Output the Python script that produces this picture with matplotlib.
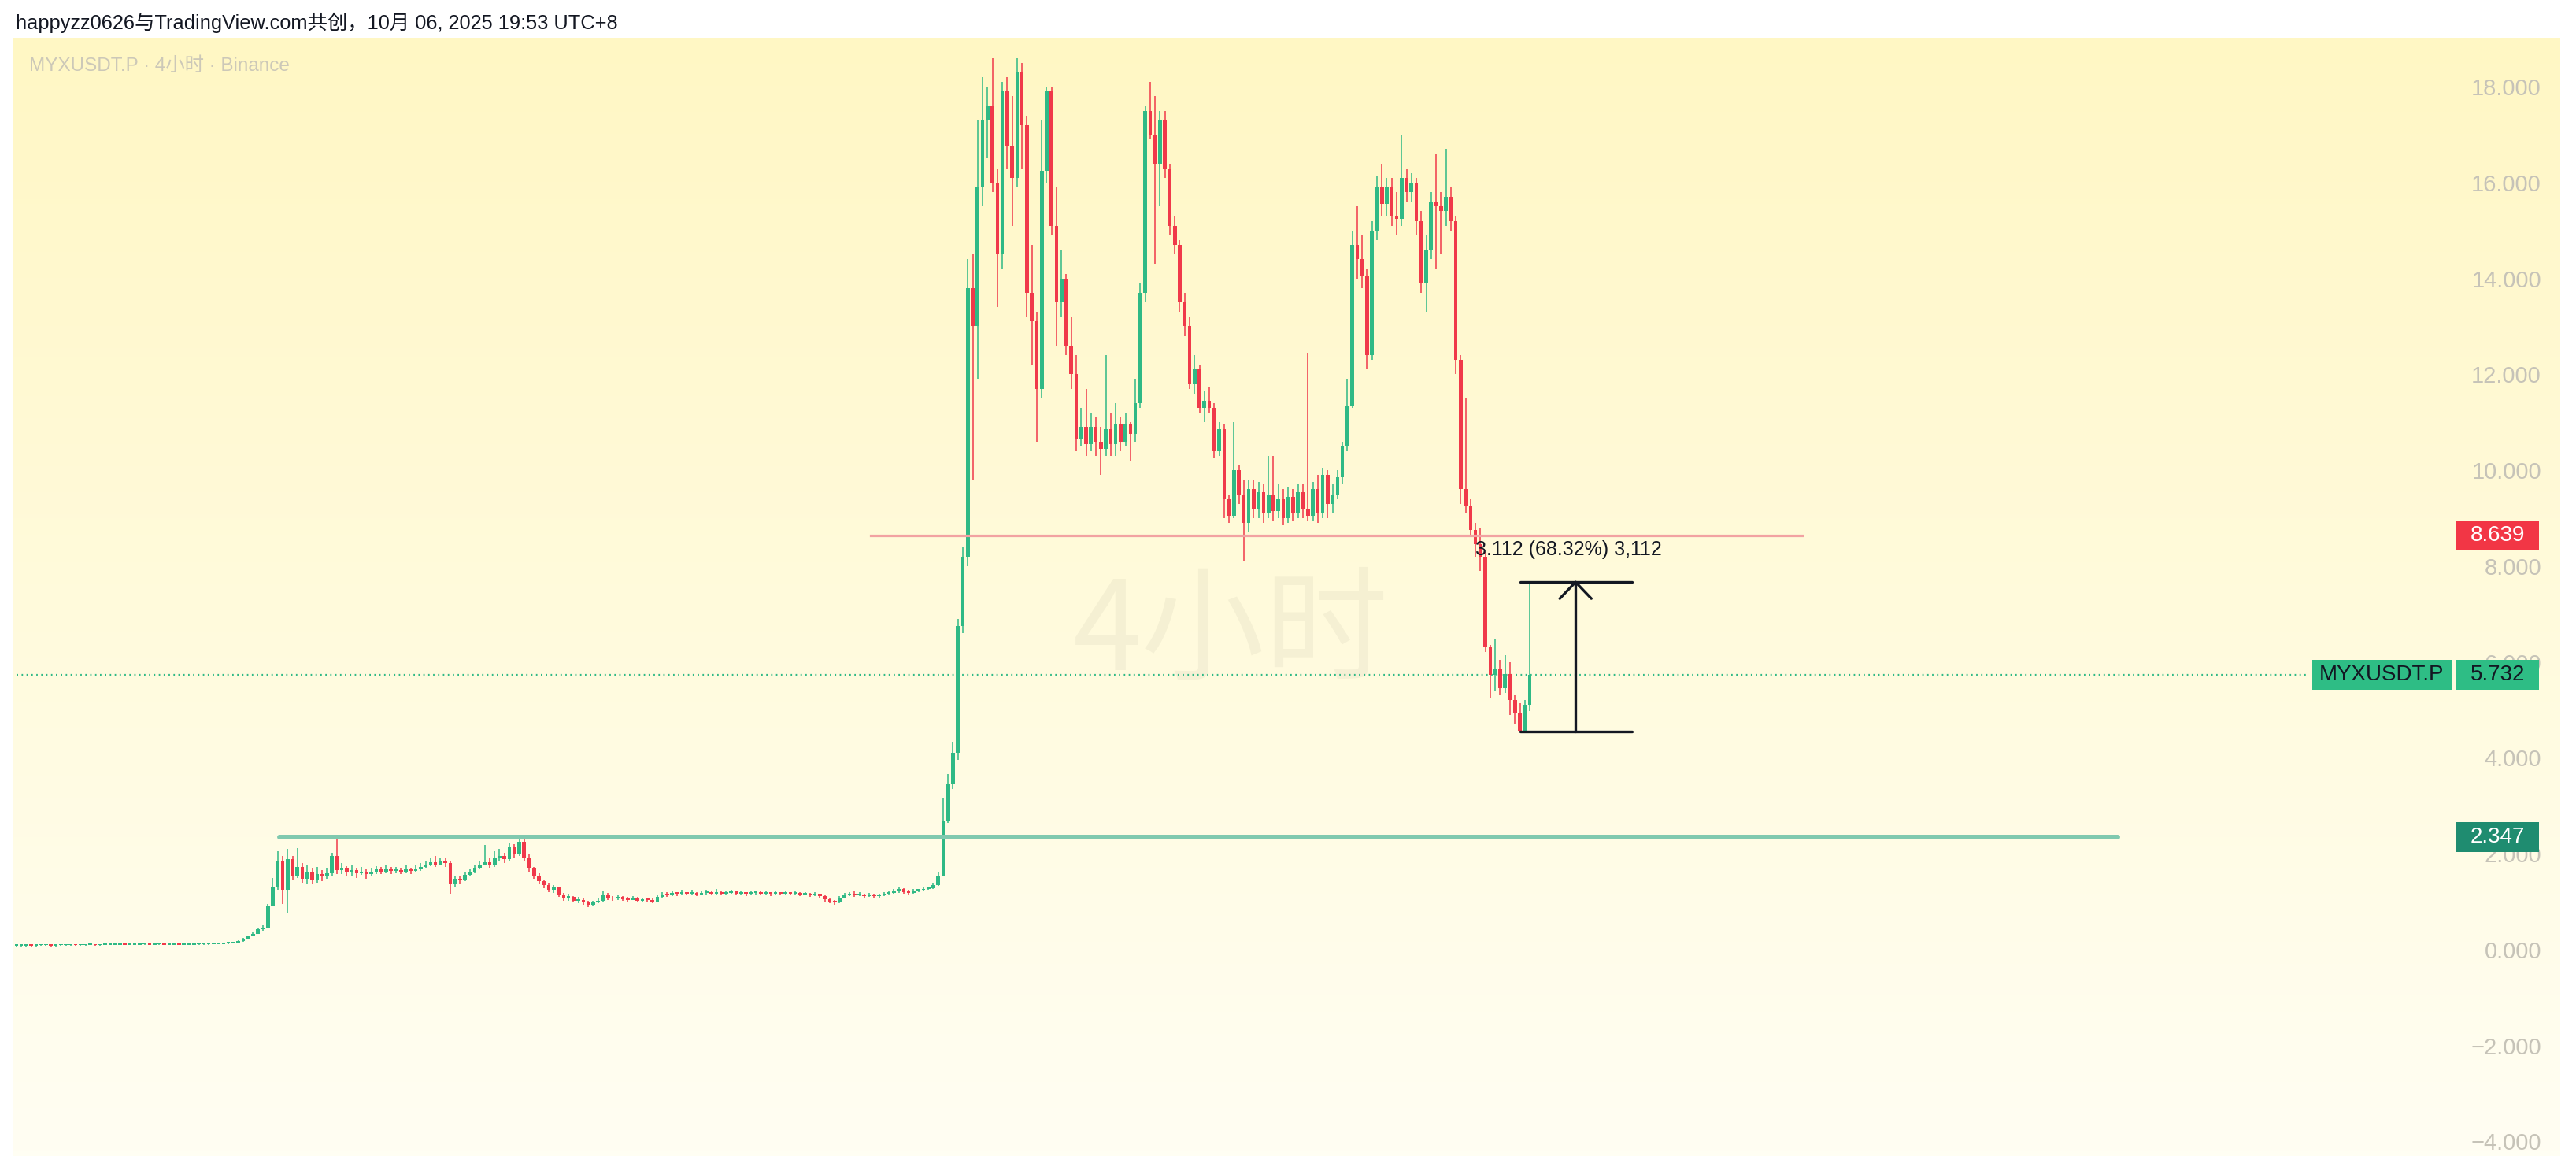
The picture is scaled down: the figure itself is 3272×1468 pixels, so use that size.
import numpy as np
import matplotlib
matplotlib.use('Agg')
import matplotlib.pyplot as plt
from matplotlib import transforms
from matplotlib.patches import Rectangle

plt.rcParams['font.family'] = ['Liberation Sans', 'Noto Sans CJK SC', 'DejaVu Sans']

# MYXUSDT.P 4h candles
first_open = 0.08
close = [
    0.08, 0.08, 0.09, 0.08, 0.09, 0.09, 0.09, 0.08, 0.09, 0.09,
    0.09, 0.10, 0.09, 0.09, 0.10, 0.10, 0.09, 0.10, 0.10, 0.10,
    0.10, 0.11, 0.10, 0.10, 0.10, 0.11, 0.11, 0.10, 0.11, 0.11,
    0.10, 0.10, 0.11, 0.10, 0.10, 0.10, 0.11, 0.11, 0.11, 0.12,
    0.12, 0.12, 0.13, 0.14, 0.15, 0.18, 0.22, 0.28, 0.33, 0.42,
    0.46, 0.92, 1.30, 1.85, 1.25, 1.88, 1.55, 1.72, 1.48, 1.62,
    1.45, 1.58, 1.52, 1.60, 1.95, 1.65, 1.70, 1.62, 1.66, 1.60,
    1.63, 1.58, 1.62, 1.67, 1.63, 1.68, 1.64, 1.66, 1.62, 1.68,
    1.64, 1.68, 1.72, 1.78, 1.83, 1.78, 1.86, 1.80, 1.38, 1.48,
    1.45, 1.56, 1.62, 1.70, 1.78, 1.82, 1.75, 1.92, 1.96, 1.88,
    2.15, 2.00, 2.25, 1.92, 1.70, 1.55, 1.42, 1.35, 1.25, 1.30,
    1.15, 1.08, 1.10, 1.02, 1.04, 0.98, 0.93, 0.98, 1.02, 1.15,
    1.08, 1.06, 1.10, 1.05, 1.04, 1.08, 1.02, 1.05, 1.03, 1.00,
    1.10, 1.15, 1.13, 1.18, 1.16, 1.19, 1.16, 1.18, 1.15, 1.18,
    1.20, 1.17, 1.19, 1.16, 1.18, 1.21, 1.17, 1.19, 1.16, 1.18,
    1.20, 1.17, 1.19, 1.16, 1.18, 1.17, 1.19, 1.16, 1.18, 1.15,
    1.17, 1.14, 1.16, 1.12, 1.05, 1.00, 0.98, 1.08, 1.14, 1.16,
    1.13, 1.15, 1.12, 1.14, 1.11, 1.13, 1.16, 1.18, 1.22, 1.26,
    1.20, 1.18, 1.23, 1.24, 1.26, 1.28, 1.35, 1.55, 2.70, 3.45,
    4.10, 6.75, 8.20, 13.80, 13.00, 15.90, 17.30, 17.60, 16.00, 14.50,
    17.90, 16.75, 16.10, 18.30, 17.20, 13.70, 13.10, 11.70, 16.25, 17.90,
    15.10, 13.50, 14.00, 12.60, 12.00, 10.65, 10.90, 10.55, 10.90, 10.60,
    10.45, 10.85, 10.55, 10.95, 10.60, 10.95, 10.75, 11.40, 13.70, 17.50,
    17.00, 16.40, 17.30, 16.30, 15.10, 14.70, 13.50, 13.00, 11.80, 12.10,
    11.30, 11.45, 11.30, 10.40, 10.85, 9.40, 9.05, 10.00, 9.50, 8.90,
    9.60, 9.20, 9.55, 9.10, 9.50, 9.15, 9.40, 9.00, 9.45, 9.10,
    9.55, 9.20, 9.05, 9.60, 9.10, 9.90, 9.30, 9.50, 9.85, 10.50,
    11.35, 14.70, 14.40, 14.05, 12.40, 15.00, 15.90, 15.55, 15.90, 15.30,
    15.25, 16.10, 15.80, 16.00, 15.20, 13.90, 14.60, 15.60, 15.50, 15.40,
    15.70, 15.20, 12.30, 9.60, 9.25, 8.75, 8.45, 8.20, 6.30, 5.73,
    5.85, 5.45, 5.75, 5.20, 4.92, 4.56, 5.10, 5.732,
]
high = [
    0.10, 0.10, 0.11, 0.10, 0.11, 0.11, 0.11, 0.10, 0.11, 0.11,
    0.11, 0.12, 0.11, 0.11, 0.12, 0.12, 0.11, 0.12, 0.12, 0.12,
    0.12, 0.13, 0.12, 0.12, 0.12, 0.13, 0.13, 0.12, 0.13, 0.13,
    0.12, 0.12, 0.13, 0.12, 0.12, 0.12, 0.13, 0.13, 0.13, 0.14,
    0.14, 0.14, 0.15, 0.16, 0.17, 0.20, 0.24, 0.30, 0.36, 0.45,
    0.50, 0.95, 1.50, 2.05, 1.95, 2.10, 1.95, 2.12, 1.80, 1.78,
    1.70, 1.72, 1.66, 1.70, 2.02, 2.33, 1.80, 1.74, 1.75, 1.70,
    1.72, 1.68, 1.70, 1.74, 1.72, 1.78, 1.72, 1.73, 1.70, 1.76,
    1.70, 1.75, 1.80, 1.86, 1.92, 1.96, 1.92, 1.90, 1.84, 1.55,
    1.55, 1.62, 1.68, 1.76, 1.85, 2.19, 1.90, 2.05, 2.10, 2.02,
    2.22, 2.20, 2.37, 2.30, 1.98, 1.72, 1.60, 1.45, 1.40, 1.35,
    1.32, 1.18, 1.16, 1.12, 1.10, 1.06, 1.02, 1.02, 1.06, 1.22,
    1.18, 1.12, 1.14, 1.12, 1.10, 1.12, 1.10, 1.08, 1.07, 1.06,
    1.14, 1.20, 1.20, 1.22, 1.20, 1.24, 1.20, 1.25, 1.19, 1.22,
    1.24, 1.22, 1.26, 1.21, 1.22, 1.25, 1.22, 1.23, 1.20, 1.22,
    1.23, 1.21, 1.22, 1.20, 1.21, 1.20, 1.22, 1.20, 1.21, 1.20,
    1.20, 1.18, 1.19, 1.17, 1.13, 1.06, 1.03, 1.12, 1.18, 1.20,
    1.22, 1.19, 1.17, 1.18, 1.16, 1.17, 1.20, 1.22, 1.26, 1.30,
    1.28, 1.24, 1.26, 1.27, 1.29, 1.31, 1.40, 1.62, 3.17, 3.66,
    4.34, 6.90, 8.40, 14.40, 14.50, 17.30, 18.20, 18.00, 18.60, 16.30,
    18.10, 18.20, 17.80, 18.60, 18.50, 17.40, 14.70, 13.30, 17.30, 18.00,
    18.00, 15.90, 14.60, 14.10, 13.20, 12.40, 11.30, 11.70, 11.20, 11.10,
    10.90, 12.40, 11.20, 11.40, 11.10, 11.20, 11.00, 11.90, 13.90, 17.60,
    18.10, 17.80, 17.50, 17.50, 16.40, 15.30, 14.80, 13.70, 13.20, 12.40,
    12.20, 11.65, 11.75, 11.40, 11.00, 10.95, 9.50, 11.00, 10.10, 9.80,
    9.80, 9.80, 9.75, 9.70, 10.30, 10.30, 9.70, 9.60, 9.65, 9.60,
    9.70, 9.70, 12.45, 9.75, 9.90, 10.05, 10.00, 9.70, 10.00, 10.60,
    11.90, 15.00, 15.50, 14.90, 14.20, 15.20, 16.15, 16.40, 16.10, 16.10,
    15.80, 17.00, 16.30, 16.20, 16.10, 15.40, 14.90, 15.80, 16.60, 15.80,
    16.70, 15.90, 15.30, 12.40, 11.50, 9.40, 8.90, 8.80, 8.30, 6.35,
    6.47, 6.04, 6.15, 6.00, 5.30, 5.14, 5.20, 7.667,
]
low = [
    0.06, 0.07, 0.07, 0.07, 0.07, 0.08, 0.08, 0.07, 0.07, 0.08,
    0.08, 0.08, 0.08, 0.08, 0.08, 0.09, 0.08, 0.08, 0.09, 0.09,
    0.09, 0.09, 0.09, 0.09, 0.09, 0.09, 0.10, 0.09, 0.09, 0.10,
    0.09, 0.09, 0.09, 0.09, 0.09, 0.09, 0.09, 0.10, 0.10, 0.10,
    0.11, 0.11, 0.11, 0.12, 0.13, 0.15, 0.17, 0.21, 0.27, 0.32,
    0.40, 0.44, 0.90, 1.25, 0.95, 0.75, 1.45, 1.50, 1.40, 1.38,
    1.36, 1.40, 1.42, 1.48, 1.55, 1.58, 1.58, 1.55, 1.55, 1.50,
    1.56, 1.48, 1.55, 1.58, 1.58, 1.60, 1.58, 1.60, 1.57, 1.60,
    1.58, 1.62, 1.64, 1.70, 1.74, 1.72, 1.75, 1.72, 1.17, 1.32,
    1.38, 1.42, 1.52, 1.60, 1.68, 1.75, 1.70, 1.72, 1.85, 1.80,
    1.85, 1.90, 1.95, 1.85, 1.62, 1.48, 1.38, 1.28, 1.20, 1.18,
    1.10, 1.02, 1.02, 0.98, 0.96, 0.94, 0.89, 0.90, 0.96, 1.00,
    1.04, 1.02, 1.04, 1.02, 1.00, 1.03, 0.99, 1.00, 0.98, 0.97,
    0.99, 1.08, 1.10, 1.12, 1.12, 1.15, 1.13, 1.14, 1.12, 1.14,
    1.15, 1.14, 1.15, 1.13, 1.14, 1.16, 1.14, 1.15, 1.12, 1.14,
    1.15, 1.14, 1.15, 1.12, 1.14, 1.13, 1.15, 1.13, 1.14, 1.12,
    1.13, 1.10, 1.12, 1.08, 1.00, 0.96, 0.94, 0.97, 1.06, 1.12,
    1.10, 1.11, 1.09, 1.10, 1.08, 1.09, 1.11, 1.14, 1.16, 1.18,
    1.17, 1.14, 1.17, 1.20, 1.22, 1.24, 1.27, 1.33, 1.52, 2.65,
    3.35, 3.95, 6.60, 8.00, 9.80, 11.90, 15.50, 16.50, 15.80, 13.40,
    14.20, 16.30, 15.10, 15.90, 16.30, 13.20, 12.20, 10.60, 11.50, 16.00,
    14.90, 12.60, 13.20, 12.40, 11.70, 10.40, 10.50, 10.30, 10.40, 10.30,
    9.90, 10.30, 10.30, 10.30, 10.40, 10.50, 10.20, 10.60, 11.30, 13.50,
    16.90, 14.30, 15.50, 16.10, 14.90, 14.50, 13.30, 12.80, 11.70, 11.60,
    11.20, 11.00, 11.20, 10.25, 10.30, 9.00, 8.90, 9.00, 9.30, 8.10,
    8.70, 9.00, 9.00, 8.90, 9.00, 8.95, 9.00, 8.85, 8.90, 8.95,
    9.00, 9.00, 8.95, 8.95, 8.90, 9.00, 9.00, 9.10, 9.40, 9.70,
    10.40, 11.30, 14.00, 13.80, 12.10, 12.30, 14.80, 15.30, 15.30, 15.10,
    14.90, 15.10, 15.60, 15.60, 14.90, 13.70, 13.30, 14.40, 14.20, 14.50,
    15.10, 15.00, 12.00, 9.30, 9.10, 8.60, 8.20, 7.90, 6.20, 5.24,
    5.40, 5.30, 5.35, 4.90, 4.70, 4.555, 4.555, 4.97,
]

support_level = 2.347
resist_level = 8.639
last_price = 5.732
measure_low = 4.555
measure_high = 7.667
measure_text = '3.112 (68.32%) 3,112'
y_ticks = [-4, -2, 0, 2, 4, 6, 8, 10, 12, 14, 16, 18]

header = 'happyzz0626与TradingView.com共创，10月 06, 2025 19:53 UTC+8'
symbol_line = 'MYXUSDT.P · 4小时 · Binance'
watermark = '4小时'
symbol = 'MYXUSDT.P'

GREEN = '#2FB985'
RED = '#F0394A'

W, H = 3272, 1468
fig = plt.figure(figsize=(W / 100, H / 100), dpi=100)
fig.patch.set_facecolor('white')


def fx(px):
    return px / W


def fy(py):
    return 1 - py / H


# yellow gradient panel behind chart + price scale
bg = fig.add_axes([fx(17), 0, fx(3252) - fx(17), fy(48)])
top = np.array([255, 247, 196]) / 255
bot = np.array([255, 254, 243]) / 255
t = np.linspace(0, 1, 256)[:, None, None]
bg.imshow(top + (bot - top) * t, aspect='auto', extent=[0, 1, 0, 1])
bg.axis('off')

ax = fig.add_axes([fx(17), 0, fx(3116) - fx(17), fy(48)])
ax.set_facecolor('none')
for s in ax.spines.values():
    s.set_visible(False)

# candles
c = np.array(close)
o = np.r_[first_open, c[:-1]]
h = np.maximum(np.array(high), np.maximum(o, c))
lo = np.minimum(np.array(low), np.minimum(o, c))
x = np.arange(len(c))
cols = np.where(c >= o, GREEN, RED)
ax.vlines(x, lo, h, colors=cols, lw=1.1, zorder=3)
body = np.maximum(np.abs(c - o), 0.03)
ax.bar(x, body, bottom=np.minimum(o, c), width=0.74, color=cols,
       linewidth=0, zorder=3)

# faint interval watermark
ax.text(214.4, 6.57, watermark, fontsize=113, color=(0, 0, 0, 0.04),
        ha='left', va='center', zorder=1, family=['Noto Sans CJK SC'])

# drawings
ax.plot([53.3, 426.3], [support_level] * 2, color='#80C9AF', lw=4.3,
        solid_capstyle='round', zorder=4)
ax.plot([173.3, 362.3], [resist_level] * 2, color='#F2A2A2', lw=2.3, zorder=4)
ax.plot([-1, 465], [last_price] * 2, color=GREEN, lw=1.6,
        ls=(0, (0.8, 2.0)), zorder=2)

# price range measure
mk = dict(color='#131722', lw=2.4, solid_capstyle='round', zorder=6)
ax.plot([305, 327.7], [measure_low] * 2, **mk)
ax.plot([305, 327.7], [measure_high] * 2, **mk)
ax.plot([316.3, 316.3], [measure_low, measure_high], **mk)
ax.plot([313.1, 316.3, 319.5],
        [measure_high - 0.345, measure_high, measure_high - 0.345], **mk)
ax.text(296, 8.35, measure_text, fontsize=18, color='#131722',
        ha='left', va='center', zorder=7)

# price scale
ax.set_yticks(y_ticks)
ax.set_yticklabels([f'{v:.3f}'.replace('-', '\u2212') for v in y_ticks])
ax.yaxis.tick_right()
ax.tick_params(axis='y', length=0, pad=80.6, labelsize=21, labelcolor='#C6C3B8')
ax.tick_params(axis='x', bottom=False, labelbottom=False)
for lab in ax.get_yticklabels():
    lab.set_horizontalalignment('right')

trans = transforms.blended_transform_factory(fig.transFigure, ax.transData)
box_h = 38 / 60.86


def price_box(x0, x1, y, text, face, tcol):
    ax.add_patch(Rectangle((fx(x0), y - box_h / 2), fx(x1) - fx(x0), box_h,
                           transform=trans, facecolor=face, edgecolor='none',
                           clip_on=False, zorder=8))
    ax.text(fx((x0 + x1) / 2), y, text, transform=trans, ha='center',
            va='center', fontsize=20, color=tcol, clip_on=False, zorder=9)


price_box(3120, 3225, resist_level, f'{resist_level:.3f}', '#F23645', 'white')
price_box(2937, 3114, last_price, symbol, '#2EBD85', '#131722')
price_box(3120, 3225, last_price, f'{last_price:.3f}', '#2EBD85', '#131722')
price_box(3120, 3225, support_level, f'{support_level:.3f}', '#1F8C70', 'white')

ax.set_xlim((17 - 20.9) / 6.261, (3116 - 20.9) / 6.261)
ax.set_ylim(-4.305, 19.02)

fig.text(fx(20), fy(29), header, fontsize=18.3, color='#131722', va='center')
fig.text(fx(37), fy(84), symbol_line, fontsize=17.5, color='#CCC8B8', va='center')

fig.savefig('out.png', dpi=100)
